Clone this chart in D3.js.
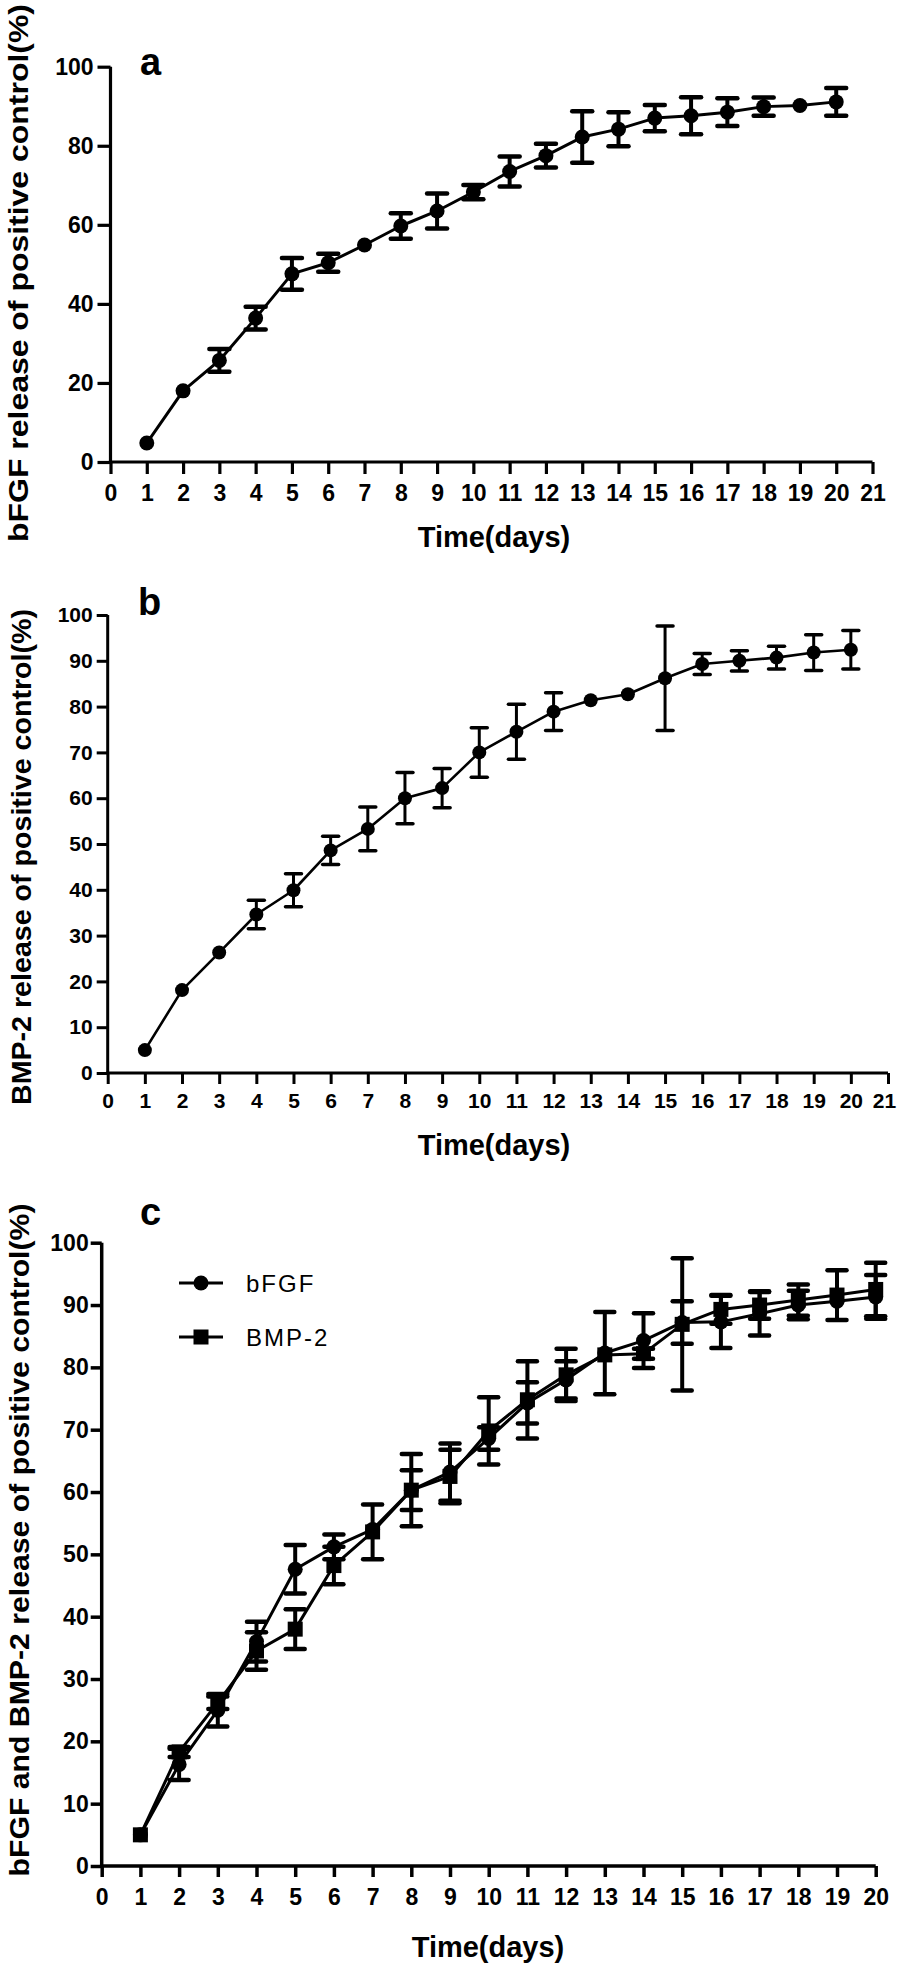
<!DOCTYPE html>
<html>
<head>
<meta charset="utf-8">
<script src="https://cdn.jsdelivr.net/npm/d3@7"></script>
<style>
  html, body { margin: 0; padding: 0; background: #fff; }
  svg { display: block; }
  text { font-family: "Liberation Sans", Arial, Helvetica, sans-serif; fill: #000; }
</style>
</head>
<body>
<svg id="chart" width="898" height="1965"></svg>
<script>
// ---------------- DATA ----------------
const days = [1, 2, 3, 4, 5, 6, 7, 8, 9, 10, 11, 12, 13, 14, 15, 16, 17, 18, 19, 20];

// Panel a: bFGF
const bfgfA    = [4.8, 18, 25.7, 36.4, 47.6, 50.4, 54.9, 59.7, 63.5, 68.3, 73.5, 77.5, 82.2, 84.2, 87, 87.6, 88.5, 89.9, 90.2, 91.1];
const bfgfAErr = [0, 0, 2.9, 2.9, 4, 2.3, 0, 3.2, 4.4, 1.8, 3.8, 3, 6.5, 4.3, 3.3, 4.7, 3.5, 2.3, 0, 3.5];

// Panel b: BMP-2
const bmpB    = [5, 18.1, 26.3, 34.6, 39.9, 48.6, 53.3, 60, 62.2, 70, 74.5, 78.9, 81.4, 82.7, 86.2, 89.3, 90, 90.7, 91.8, 92.4];
const bmpBErr = [0, 0, 0, 3.1, 3.6, 3.1, 4.8, 5.6, 4.3, 5.4, 6, 4.1, 0, 0, 11.4, 2.3, 2.2, 2.5, 3.9, 4.2];

// Panel c: both
const bfgfC    = [5, 16.3, 25, 36, 47.6, 51.2, 54, 60.3, 63.2, 68.6, 74.3, 78, 82.3, 84.3, 87.2, 87.3, 88.6, 90, 90.6, 91.3];
const bfgfCErr = [0, 2.5, 2.6, 3.2, 3.9, 2, 0, 3.2, 4.6, 1.8, 3.3, 3, 6.6, 4.4, 3.4, 4.2, 3.5, 2.3, 0, 3.5];
const bmpC     = [5, 18.3, 26.2, 34.5, 38, 48.2, 53.6, 60.3, 62.5, 69.8, 74.8, 78.8, 82, 82.2, 86.9, 89.3, 90, 90.8, 91.6, 92.5];
const bmpCErr  = [0, 0.8, 1, 3, 3.2, 3, 4.4, 5.8, 4.3, 5.4, 6.2, 4.2, 0, 0.8, 10.6, 2.3, 2.2, 2.5, 4, 4.3];

// Ticks
const yTicksA = [0, 20, 40, 60, 80, 100];
const yTicksB = [0, 10, 20, 30, 40, 50, 60, 70, 80, 90, 100];
const xTicksAB = [0, 1, 2, 3, 4, 5, 6, 7, 8, 9, 10, 11, 12, 13, 14, 15, 16, 17, 18, 19, 20, 21];
const xTicksC = [0, 1, 2, 3, 4, 5, 6, 7, 8, 9, 10, 11, 12, 13, 14, 15, 16, 17, 18, 19, 20];

// Texts
const titleA = "bFGF release of positive control(%)";
const titleB = "BMP-2 release of positive control(%)";
const titleC = "bFGF and BMP-2 release of positive control(%)";
const xTitle = "Time(days)";
const seriesNames = ["bFGF", "BMP-2"];

// ---------------- DRAW ----------------
const svg = d3.select("#chart");
svg.append("rect").attr("width", 898).attr("height", 1965).attr("fill", "#fff");

function drawPanel(cfg) {
  const x = d3.scaleLinear().domain(cfg.xDomain).range(cfg.xRange);
  const y = d3.scaleLinear().domain([0, 100]).range(cfg.yRange);
  const g = svg.append("g");

  const yAxis = d3.axisLeft(y).tickValues(cfg.yTicks).tickSize(cfg.yTickSize)
      .tickSizeOuter(0).tickPadding(cfg.yPad);
  const xAxis = d3.axisBottom(x).tickValues(cfg.xTicks).tickSize(cfg.xTickSize)
      .tickSizeOuter(0).tickPadding(cfg.xPad);

  const ga = g.append("g").attr("transform", `translate(${cfg.xRange[0]},0)`).call(yAxis);
  const gb = g.append("g").attr("transform", `translate(0,${cfg.yRange[0]})`).call(xAxis);
  [ga, gb].forEach(a => {
    a.select(".domain").attr("stroke", "#000").attr("stroke-width", cfg.axisW);
    a.selectAll(".tick line").attr("stroke", "#000").attr("stroke-width", cfg.axisW);
    a.selectAll(".tick text")
      .style("font-family", '"Liberation Sans", Arial, sans-serif')
      .style("font-weight", "bold")
      .style("font-size", cfg.tickFont + "px")
      .attr("fill", "#000");
  });
  // keep the last x label inside the page
  gb.selectAll(".tick text").filter(d => d === cfg.xDomain[1]).attr("dx", cfg.lastDx || 0);

  ga.select(".domain").attr("d", `M0,${cfg.yRange[0] + cfg.axisW / 2}V${cfg.yRange[1]}`);
  gb.select(".domain").attr("d", `M${cfg.xRange[0] - cfg.axisW / 2},0H${cfg.xRange[1]}`);

  // y title
  g.append("text")
    .attr("transform", `translate(${cfg.yTitleX},${cfg.yTitleY}) rotate(-90)`)
    .attr("text-anchor", "middle")
    .attr("textLength", cfg.yTitleLen)
    .attr("lengthAdjust", "spacingAndGlyphs")
    .style("font-weight", "bold")
    .style("font-size", cfg.yTitleFont + "px")
    .text(cfg.yTitle);

  // x title
  g.append("text")
    .attr("x", cfg.xTitleX).attr("y", cfg.xTitleY)
    .attr("text-anchor", "middle")
    .style("font-weight", "bold")
    .style("font-size", "29px")
    .text(xTitle);

  // panel letter
  g.append("text")
    .attr("x", cfg.letterX).attr("y", cfg.letterY)
    .style("font-weight", "bold")
    .style("font-size", "38px")
    .text(cfg.letter);

  // series
  cfg.series.forEach(s => {
    const pts = days.map((d, i) => ({ d, v: s.values[i], e: s.err[i] }));
    const sg = g.append("g");
    pts.filter(p => p.e > 0).forEach(p => {
      const cx = x(p.d), y1 = y(p.v + p.e), y2 = y(p.v - p.e);
      sg.append("line").attr("x1", cx).attr("x2", cx).attr("y1", y1).attr("y2", y2)
        .attr("stroke", "#000").attr("stroke-width", cfg.barW);
      [y1, y2].forEach(yy => sg.append("line")
        .attr("x1", cx - cfg.capW / 2).attr("x2", cx + cfg.capW / 2)
        .attr("y1", yy).attr("y2", yy)
        .attr("stroke", "#000").attr("stroke-width", cfg.capT).attr("stroke-linecap", "round"));
    });
    sg.append("path")
      .attr("d", d3.line().x(p => x(p.d)).y(p => y(p.v))(pts))
      .attr("fill", "none").attr("stroke", "#000").attr("stroke-width", cfg.lineW)
      .attr("stroke-linejoin", "round");
    pts.forEach(p => {
      if (s.shape === "square") {
        sg.append("rect").attr("x", x(p.d) - cfg.sq / 2).attr("y", y(p.v) - cfg.sq / 2)
          .attr("width", cfg.sq).attr("height", cfg.sq).attr("fill", "#000");
      } else {
        sg.append("circle").attr("cx", x(p.d)).attr("cy", y(p.v)).attr("r", cfg.r).attr("fill", "#000");
      }
    });
  });

  // legend
  if (cfg.legend) {
    cfg.series.forEach((s, i) => {
      const ly = cfg.legend.y[i];
      g.append("line").attr("x1", cfg.legend.x1).attr("x2", cfg.legend.x2)
        .attr("y1", ly).attr("y2", ly).attr("stroke", "#000").attr("stroke-width", cfg.lineW);
      const mx = (cfg.legend.x1 + cfg.legend.x2) / 2;
      if (s.shape === "square") {
        g.append("rect").attr("x", mx - cfg.sq / 2).attr("y", ly - cfg.sq / 2)
          .attr("width", cfg.sq).attr("height", cfg.sq).attr("fill", "#000");
      } else {
        g.append("circle").attr("cx", mx).attr("cy", ly).attr("r", cfg.r).attr("fill", "#000");
      }
      g.append("text").attr("x", cfg.legend.tx).attr("y", ly + 9)
        .style("font-size", "24px").style("letter-spacing", "2px")
        .text(s.name);
    });
  }
}

// Panel a
drawPanel({
  xDomain: [0, 21], xRange: [110.5, 872.5], yRange: [462, 66.7],
  yTicks: yTicksA, xTicks: xTicksAB,
  yTickSize: 13, yPad: 4, xTickSize: 12, xPad: 11, tickFont: 23, axisW: 3.2,
  yTitle: titleA, yTitleX: 28, yTitleY: 273, yTitleLen: 538, yTitleFont: 28,
  xTitleX: 494, xTitleY: 547,
  letter: "a", letterX: 140, letterY: 75,
  lineW: 3, barW: 4, capW: 20, capT: 4.5, r: 7.5, sq: 15,
  series: [{ name: seriesNames[0], values: bfgfA, err: bfgfAErr, shape: "circle" }]
});

// Panel b
drawPanel({
  xDomain: [0, 21], xRange: [107.7, 888], yRange: [1073, 615],
  yTicks: yTicksB, xTicks: xTicksAB,
  yTickSize: 11, yPad: 4, xTickSize: 11, xPad: 9, tickFont: 21, axisW: 3,
  lastDx: -4,
  yTitle: titleB, yTitleX: 31, yTitleY: 857, yTitleLen: 496, yTitleFont: 28,
  xTitleX: 494, xTitleY: 1155,
  letter: "b", letterX: 138, letterY: 615,
  lineW: 2.6, barW: 3, capW: 16, capT: 3.5, r: 7, sq: 14,
  series: [{ name: seriesNames[1], values: bmpB, err: bmpBErr, shape: "circle" }]
});

// Panel c
drawPanel({
  xDomain: [0, 20], xRange: [101.7, 875.7], yRange: [1866, 1242.7],
  yTicks: yTicksB, xTicks: xTicksC,
  yTickSize: 11, yPad: 2, xTickSize: 11, xPad: 12, tickFont: 23, axisW: 3.5,
  yTitle: titleC, yTitleX: 29, yTitleY: 1540, yTitleLen: 673, yTitleFont: 27,
  xTitleX: 488, xTitleY: 1957,
  letter: "c", letterX: 140, letterY: 1225,
  lineW: 3, barW: 4, capW: 19, capT: 4.5, r: 7.5, sq: 15,
  legend: { x1: 179, x2: 223, y: [1283, 1337], tx: 246 },
  series: [
    { name: seriesNames[0], values: bfgfC, err: bfgfCErr, shape: "circle" },
    { name: seriesNames[1], values: bmpC, err: bmpCErr, shape: "square" }
  ]
});
</script>
</body>
</html>
